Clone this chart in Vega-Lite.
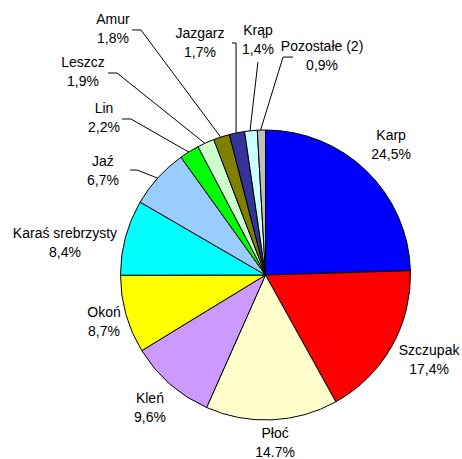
{
  "$schema": "https://vega.github.io/schema/vega-lite/v6.json",
  "width": 377,
  "height": 348,
  "padding": {"left": 77, "top": 101, "right": 8, "bottom": 10},
  "autosize": {"type": "none"},
  "background": "white",
  "config": {"view": {"stroke": null}, "font": "Liberation Sans"},
  "datasets": {
    "catch": [
      {"name": "Karp", "value": 24.5, "pct": "24,5%"},
      {"name": "Szczupak", "value": 17.4, "pct": "17,4%"},
      {"name": "Płoć", "value": 14.7, "pct": "14.7%"},
      {"name": "Kleń", "value": 9.6, "pct": "9,6%"},
      {"name": "Okoń", "value": 8.7, "pct": "8,7%"},
      {"name": "Karaś srebrzysty", "value": 8.4, "pct": "8,4%"},
      {"name": "Jaź", "value": 6.7, "pct": "6,7%"},
      {"name": "Lin", "value": 2.2, "pct": "2,2%"},
      {"name": "Leszcz", "value": 1.9, "pct": "1,9%"},
      {"name": "Amur", "value": 1.8, "pct": "1,8%"},
      {"name": "Jazgarz", "value": 1.7, "pct": "1,7%"},
      {"name": "Krąp", "value": 1.4, "pct": "1,4%"},
      {"name": "Pozostałe (2)", "value": 0.9, "pct": "0,9%"}
    ],
    "labelAnchors": [
      {"name": "Karp", "lx": 86.6, "ly": 89.0},
      {"name": "Szczupak", "lx": 112.8, "ly": -59.0},
      {"name": "Płoć", "lx": 6.6, "ly": -115.9},
      {"name": "Kleń", "lx": -79.7, "ly": -92.1},
      {"name": "Okoń", "lx": -111.4, "ly": -32.8},
      {"name": "Karaś srebrzysty", "lx": -138.3, "ly": 21.4},
      {"name": "Jaź", "lx": -112.1, "ly": 71.7},
      {"name": "Lin", "lx": -111.4, "ly": 107.9},
      {"name": "Leszcz", "lx": -125.9, "ly": 139.7},
      {"name": "Amur", "lx": -105.2, "ly": 169.0},
      {"name": "Jazgarz", "lx": -45.2, "ly": 160.0},
      {"name": "Krąp", "lx": -5.2, "ly": 161.4},
      {"name": "Pozostałe (2)", "lx": 39.0, "ly": 150.7}
    ],
    "leaders": [
      {"name": "Jaź", "step": 1, "lx": -93.4, "ly": 72.4},
      {"name": "Jaź", "step": 2, "lx": -88.6, "ly": 72.4},
      {"name": "Jaź", "step": 3, "lx": -74.3, "ly": 66.8},
      {"name": "Lin", "step": 1, "lx": -99.0, "ly": 107.6},
      {"name": "Lin", "step": 2, "lx": -92.8, "ly": 107.6},
      {"name": "Lin", "step": 3, "lx": -53.0, "ly": 84.8},
      {"name": "Leszcz", "step": 1, "lx": -108.6, "ly": 139.3},
      {"name": "Leszcz", "step": 2, "lx": -102.4, "ly": 139.3},
      {"name": "Leszcz", "step": 3, "lx": -41.8, "ly": 90.8},
      {"name": "Amur", "step": 1, "lx": -92.1, "ly": 169.0},
      {"name": "Amur", "step": 2, "lx": -85.9, "ly": 169.0},
      {"name": "Amur", "step": 3, "lx": -30.9, "ly": 95.1},
      {"name": "Jazgarz", "step": 1, "lx": -23.1, "ly": 160.0},
      {"name": "Jazgarz", "step": 2, "lx": -20.3, "ly": 160.0},
      {"name": "Jazgarz", "step": 3, "lx": -20.3, "ly": 97.9},
      {"name": "Krąp", "step": 1, "lx": -5.2, "ly": 146.9},
      {"name": "Krąp", "step": 2, "lx": -10.7, "ly": 99.4},
      {"name": "Pozostałe (2)", "step": 1, "lx": 19.0, "ly": 150.3},
      {"name": "Pozostałe (2)", "step": 2, "lx": 12.1, "ly": 150.3},
      {"name": "Pozostałe (2)", "step": 3, "lx": -3.4, "ly": 99.9}
    ]
  },
  "layer": [
    {
      "data": {"name": "catch"},
      "mark": {"type": "arc", "outerRadius": 145, "stroke": "black", "strokeWidth": 1},
      "encoding": {
        "theta": {"field": "value", "type": "quantitative", "stack": true},
        "order": {"field": "value", "type": "quantitative", "sort": "descending"},
        "color": {
          "field": "name",
          "type": "nominal",
          "legend": null,
          "scale": {
            "domain": ["Karp", "Szczupak", "Płoć", "Kleń", "Okoń", "Karaś srebrzysty", "Jaź", "Lin", "Leszcz", "Amur", "Jazgarz", "Krąp", "Pozostałe (2)"],
            "range": ["#0000FF", "#FF0000", "#FFFFCC", "#CC99FF", "#FFFF00", "#00FFFF", "#99CCFF", "#00FF00", "#CCFFCC", "#808000", "#333399", "#CCFFFF", "#C0C0C0"]
          }
        }
      }
    },
    {
      "data": {"name": "leaders"},
      "mark": {"type": "line", "color": "black", "strokeWidth": 1},
      "encoding": {
        "x": {"field": "lx", "type": "quantitative", "scale": {"domain": [-130, 130], "nice": false, "zero": false}, "axis": null},
        "y": {"field": "ly", "type": "quantitative", "scale": {"domain": [-120, 120], "nice": false, "zero": false}, "axis": null},
        "detail": {"field": "name", "type": "nominal"},
        "order": {"field": "step", "type": "quantitative"}
      }
    },
    {
      "data": {"name": "catch"},
      "transform": [{"lookup": "name", "from": {"data": {"name": "labelAnchors"}, "key": "name", "fields": ["lx", "ly"]}}],
      "mark": {"type": "text", "fontSize": 14, "dy": -9.5, "color": "black", "font": "Liberation Sans"},
      "encoding": {
        "x": {"field": "lx", "type": "quantitative", "scale": {"domain": [-130, 130], "nice": false, "zero": false}, "axis": null},
        "y": {"field": "ly", "type": "quantitative", "scale": {"domain": [-120, 120], "nice": false, "zero": false}, "axis": null},
        "text": {"field": "name", "type": "nominal"}
      }
    },
    {
      "data": {"name": "catch"},
      "transform": [{"lookup": "name", "from": {"data": {"name": "labelAnchors"}, "key": "name", "fields": ["lx", "ly"]}}],
      "mark": {"type": "text", "fontSize": 14, "dy": 9.5, "color": "black", "font": "Liberation Sans"},
      "encoding": {
        "x": {"field": "lx", "type": "quantitative", "scale": {"domain": [-130, 130], "nice": false, "zero": false}, "axis": null},
        "y": {"field": "ly", "type": "quantitative", "scale": {"domain": [-120, 120], "nice": false, "zero": false}, "axis": null},
        "text": {"field": "pct", "type": "nominal"}
      }
    }
  ]
}
